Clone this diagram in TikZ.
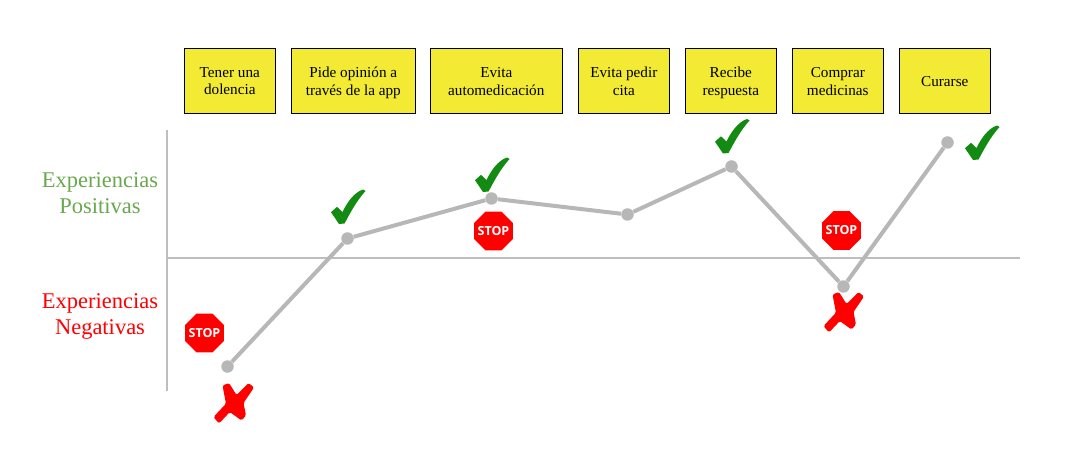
\documentclass[tikz,border=0pt]{standalone}
\usepackage{fontspec}
\setmainfont{Liberation Serif}
\setsansfont{Open Sans}
\usepackage{xcolor}
\usetikzlibrary{positioning,shapes.geometric}
\definecolor{stepyellow}{HTML}{F2EA33}
\definecolor{linegrey}{HTML}{B7B7B7}
\definecolor{posgreen}{HTML}{6AA84F}
\definecolor{checkgreen}{HTML}{138A12}
\tikzset{
  stepbox/.style={rectangle,draw=black,line width=1pt,fill=stepyellow,minimum height=65.5pt,inner sep=0pt,outer sep=0pt,align=center,text depth=0pt,font=\fontsize{15.2}{17.5}\selectfont},
  dot/.style={circle,fill=linegrey,minimum size=12.5pt,inner sep=0pt},
  journey/.style={draw=linegrey,line width=4pt},
  axis/.style={draw=linegrey!90!white,line width=2pt},
  stopsign/.style={regular polygon,regular polygon sides=8,minimum size=42pt,inner sep=0pt,fill=red,text=white,font=\sffamily\bfseries\fontsize{12.5}{13}\selectfont},
  sidelabel/.style={align=center,font=\fontsize{22.5}{26}\selectfont},
  okmark/.pic={\fill[checkgreen,line join=round] (-17,5.7) -- (-11,0.3) -- (-5.5,5.5) .. controls (-1,-4) and (6,-14) .. (15,-17) -- (17.5,-15.5) .. controls (8,-5) and (2,7) .. (-3.5,17) -- (-9,17.5) -- cycle;},
  badmark/.pic={\fill[red,rounded corners=1.5pt] (-11,-17.5) -- (-4.5,-20) -- (3,-8) -- (15,-20) -- (20.5,-15.5) -- (10,0) -- (12.5,12.5) -- (8,17.5) -- (-3.7,9) -- (-14.5,20.5) -- (-20,14) -- (-7.5,0.7) -- cycle;},
}
\begin{document}
\begin{tikzpicture}[x=1pt,y=-1pt]
  \useasboundingbox (0,0) rectangle (1069,457);
  % pasos
  \node[stepbox,minimum width=91pt,anchor=north west] (tener) at (184.3,48.5) {Tener una\\dolencia};
  \node[stepbox,minimum width=124pt,right=16pt of tener] (pide) {Pide opinión a\\través de la app};
  \node[stepbox,minimum width=132pt,right=15pt of pide] (evita) {Evita\\automedicación};
  \node[stepbox,minimum width=91pt,right=16pt of evita] (cita) {Evita pedir\\cita};
  \node[stepbox,minimum width=91pt,right=16pt of cita] (recibe) {Recibe\\respuesta};
  \node[stepbox,minimum width=91pt,right=16pt of recibe] (comprar) {Comprar\\medicinas};
  \node[stepbox,minimum width=91pt,right=16pt of comprar] (curarse) {Curarse};
  % ejes
  \coordinate (axtop) at (167,130);
  \coordinate (axbottom) at (167,391);
  \coordinate (axleft) at (167,258);
  \coordinate (axright) at (1020,258);
  \draw[axis] (axtop) -- (axbottom);
  \draw[axis] (axleft) -- (axright);
  \node[sidelabel,text=posgreen] (positivas) at (100,193) {Experiencias\\Positivas};
  \node[sidelabel,text=red] (negativas) at (100,316.5) {Experiencias\\Negativas};
  % puntos
  \node[dot] (p1) at (227.5,366.5) {};
  \node[dot] (p2) at (347.5,238.5) {};
  \node[dot] (p3) at (491.5,198.5) {};
  \node[dot] (p4) at (627.5,214.5) {};
  \node[dot] (p5) at (731.5,166.5) {};
  \node[dot] (p6) at (843.5,286.5) {};
  \node[dot] (p7) at (947.5,142.5) {};
  \draw[journey] (p1) -- (p2);
  \draw[journey] (p2) -- (p3);
  \draw[journey] (p3) -- (p4);
  \draw[journey] (p4) -- (p5);
  \draw[journey] (p5) -- (p6);
  \draw[journey] (p6) -- (p7);
  % iconos
  \node[stopsign] (stop1) at (204.5,333) {\makebox[0pt]{STOP}};
  \node[stopsign] (stop2) at (493.5,231) {\makebox[0pt]{STOP}};
  \node[stopsign] (stop3) at (841.5,230.5) {\makebox[0pt]{STOP}};
  \pic at (348,206.5) {okmark};
  \pic at (492,174.5) {okmark};
  \pic at (732,136) {okmark};
  \pic at (982,142.5) {okmark};
  \pic at (233.5,403) {badmark};
  \pic at (843.5,312) {badmark};
\end{tikzpicture}
\end{document}
